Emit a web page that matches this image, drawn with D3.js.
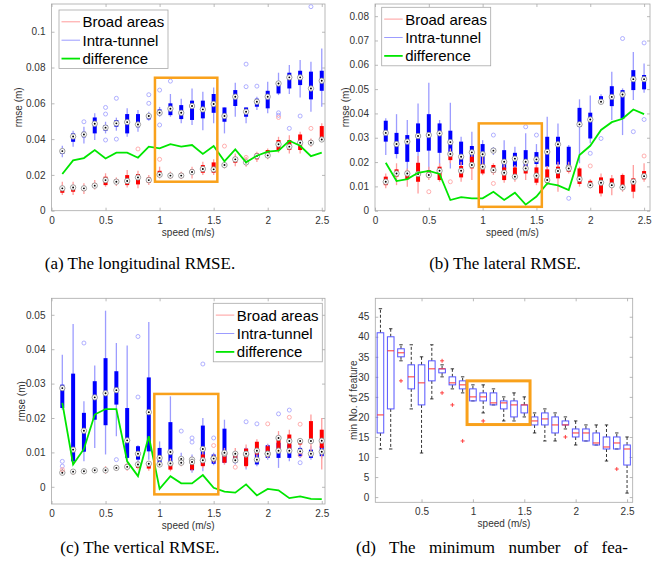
<!DOCTYPE html>
<html>
<head>
<meta charset="utf-8">
<script src="https://cdn.jsdelivr.net/npm/d3@7"></script>
<style>
  body { margin: 0; background: #fff; }
  svg { display: block; font-family: "Liberation Sans", Arial, sans-serif; }
</style>
</head>
<body>
<svg id="fig" width="662" height="566"></svg>
<script>
'use strict';

/* ---- data: speeds and per-speed box stats [lo, q1, median, q3, hi] ---- */
const speeds = [0.1, 0.2, 0.3, 0.4, 0.5, 0.6, 0.7, 0.8, 0.9, 1.0, 1.1, 1.2, 1.3,
                1.4, 1.5, 1.6, 1.7, 1.8, 1.9, 2.0, 2.1, 2.2, 2.3, 2.4, 2.5];
const speedTicks = [0, 0.5, 1, 1.5, 2, 2.5];
const featSpeedTicks = [0.5, 1, 1.5, 2, 2.5];
const legendNames = ['Broad areas', 'Intra-tunnel', 'difference'];

// (a) longitudinal
const lonTicks = [0, 0.02, 0.04, 0.06, 0.08, 0.1];
const lonTunnel = [
  [0.0298, 0.0317, 0.0333, 0.0345, 0.0363], [0.0358, 0.0385, 0.0415, 0.0432, 0.0447],
  [0.0376, 0.0410, 0.0426, 0.0441, 0.0469], [0.0395, 0.0432, 0.0486, 0.0521, 0.0544],
  [0.0432, 0.0447, 0.0464, 0.0479, 0.0497], [0.0447, 0.0469, 0.0488, 0.0506, 0.0520],
  [0.0413, 0.0432, 0.0495, 0.0540, 0.0572], [0.0441, 0.0466, 0.0482, 0.0540, 0.0562],
  [0.0503, 0.0510, 0.0529, 0.0540, 0.0553], [0.0525, 0.0534, 0.0547, 0.0566, 0.0580],
  [0.0525, 0.0534, 0.0570, 0.0600, 0.0652], [0.0488, 0.0512, 0.0547, 0.0590, 0.0626],
  [0.0479, 0.0507, 0.0585, 0.0615, 0.0683], [0.0450, 0.0516, 0.0566, 0.0615, 0.0665],
  [0.0488, 0.0547, 0.0596, 0.0652, 0.0689], [0.0432, 0.0497, 0.0529, 0.0577, 0.0577],
  [0.0525, 0.0585, 0.0637, 0.0674, 0.0715], [0.0488, 0.0525, 0.0553, 0.0577, 0.0577],
  [0.0563, 0.0581, 0.0609, 0.0626, 0.0637], [0.0544, 0.0572, 0.0637, 0.0670, 0.0720],
  [0.0646, 0.0655, 0.0711, 0.0720, 0.0771], [0.0652, 0.0683, 0.0745, 0.0771, 0.0814],
  [0.0633, 0.0702, 0.0745, 0.0782, 0.0842], [0.0553, 0.0622, 0.0683, 0.0777, 0.0832],
  [0.0581, 0.0670, 0.0726, 0.0782, 0.0907]
];
const lonTunnelOut = [[0.3, 0.0497], [0.5, 0.0577], [0.5, 0.054], [0.5, 0.0395], [0.6, 0.0628],
  [0.6, 0.040], [0.9, 0.0648], [0.9, 0.060], [1.0, 0.0674], [1.0, 0.0479], [1.1, 0.0724],
  [1.8, 0.0819], [1.8, 0.0693], [1.9, 0.0696], [2.1, 0.0547], [2.1, 0.0533], [2.2, 0.046],
  [2.3, 0.0529], [2.4, 0.114]];
const lonBroad = [
  [0.0088, 0.0100, 0.0125, 0.0130, 0.0162], [0.0088, 0.0106, 0.0130, 0.0143, 0.0162],
  [0.0093, 0.0112, 0.0125, 0.0134, 0.0153], [0.0119, 0.0130, 0.0140, 0.0153, 0.0171],
  [0.0134, 0.0143, 0.0171, 0.0190, 0.0209], [0.0138, 0.0149, 0.0162, 0.0175, 0.0186],
  [0.0130, 0.0143, 0.0166, 0.0199, 0.0227], [0.0125, 0.0147, 0.0186, 0.0205, 0.0223],
  [0.0143, 0.0156, 0.0171, 0.0186, 0.0199], [0.0180, 0.0190, 0.0201, 0.0223, 0.0246],
  [0.0177, 0.0186, 0.0196, 0.0205, 0.0218], [0.0177, 0.0186, 0.0196, 0.0209, 0.0218],
  [0.0180, 0.0205, 0.0216, 0.0231, 0.0246], [0.0199, 0.0212, 0.0233, 0.0255, 0.0273],
  [0.0199, 0.0212, 0.0231, 0.0270, 0.0287], [0.0236, 0.0246, 0.0255, 0.0264, 0.0273],
  [0.0249, 0.0268, 0.0287, 0.0298, 0.0320], [0.0246, 0.0260, 0.0270, 0.0283, 0.0302],
  [0.0272, 0.0287, 0.0305, 0.0320, 0.0330], [0.0287, 0.0302, 0.0309, 0.0339, 0.0348],
  [0.0324, 0.0339, 0.0371, 0.0395, 0.0413], [0.0320, 0.0339, 0.0358, 0.0395, 0.0421],
  [0.0320, 0.0339, 0.0380, 0.0426, 0.0441], [0.0357, 0.0367, 0.0380, 0.0395, 0.0404],
  [0.0385, 0.0395, 0.0398, 0.0473, 0.0488]
];
const lonBroadOut = [[0.8, 0.0345], [1.0, 0.0287], [1.6, 0.0361], [1.8, 0.0298], [2.1, 0.0521], [2.4, 0.046]];
const lonDiff = [0.0205, 0.0281, 0.0294, 0.0339, 0.0292, 0.0324, 0.0324, 0.0296, 0.0358, 0.0348,
  0.0372, 0.0358, 0.0367, 0.0317, 0.0361, 0.0276, 0.0343, 0.0270, 0.0307, 0.0330, 0.0335,
  0.0391, 0.0363, 0.0305, 0.0324];
const lonZoom = [0.957, 1.534, 0.0162, 0.0743];

// (b) lateral
const latTicks = [0, 0.01, 0.02, 0.03, 0.04, 0.05, 0.06, 0.07, 0.08];
const latTunnel = [
  [0.0229, 0.0284, 0.0320, 0.0370, 0.0380], [0.0215, 0.0233, 0.0274, 0.0320, 0.0397],
  [0.0167, 0.0201, 0.0284, 0.0311, 0.0373], [0.0181, 0.0242, 0.0307, 0.0359, 0.0441],
  [0.0140, 0.0247, 0.0311, 0.0397, 0.0526], [0.0181, 0.0238, 0.0318, 0.0359, 0.0373],
  [0.0174, 0.0236, 0.0282, 0.0329, 0.0444], [0.0167, 0.0188, 0.0222, 0.0284, 0.0304],
  [0.0188, 0.0201, 0.0240, 0.0266, 0.0325], [0.0174, 0.0184, 0.0232, 0.0274, 0.0290],
  [0.0229, 0.0238, 0.0247, 0.0256, 0.0262], [0.0153, 0.0170, 0.0201, 0.0249, 0.0290],
  [0.0174, 0.0181, 0.0214, 0.0238, 0.0263], [0.0156, 0.0170, 0.0201, 0.0249, 0.0318],
  [0.0174, 0.0192, 0.0211, 0.0241, 0.0274], [0.0153, 0.0181, 0.0242, 0.0304, 0.0386],
  [0.0167, 0.0190, 0.0273, 0.0304, 0.0359], [0.0167, 0.0174, 0.0178, 0.0263, 0.0270],
  [0.0195, 0.0345, 0.0355, 0.0423, 0.0458], [0.0277, 0.0297, 0.0375, 0.0403, 0.0474],
  [0.0438, 0.0444, 0.0448, 0.0471, 0.0479], [0.0373, 0.0430, 0.0468, 0.0512, 0.0571],
  [0.0311, 0.0379, 0.0478, 0.0496, 0.0503], [0.0455, 0.0496, 0.0541, 0.0578, 0.0653],
  [0.0485, 0.0499, 0.0541, 0.0558, 0.0605]
];
const latTunnelOut = [[1.1, 0.0311], [1.4, 0.0345], [1.5, 0.0311], [1.8, 0.0051], [2.0, 0.0236],
  [2.1, 0.0297], [2.3, 0.0708], [2.4, 0.0325], [2.5, 0.069], [2.5, 0.0375]];
const latBroad = [
  [0.0092, 0.0105, 0.0119, 0.0140, 0.0153], [0.0105, 0.0140, 0.0153, 0.0170, 0.0195],
  [0.0099, 0.0129, 0.0153, 0.0164, 0.0174], [0.0071, 0.0119, 0.0151, 0.0197, 0.0225],
  [0.0126, 0.0137, 0.0147, 0.0167, 0.0181], [0.0119, 0.0126, 0.0164, 0.0181, 0.0195],
  [0.0195, 0.0208, 0.0233, 0.0236, 0.0256], [0.0119, 0.0137, 0.0164, 0.0184, 0.0201],
  [0.0126, 0.0174, 0.0188, 0.0222, 0.0243], [0.0146, 0.0153, 0.0181, 0.0192, 0.0222],
  [0.0147, 0.0156, 0.0167, 0.0188, 0.0195], [0.0115, 0.0126, 0.0156, 0.0178, 0.0188],
  [0.0119, 0.0140, 0.0140, 0.0178, 0.0188], [0.0126, 0.0153, 0.0174, 0.0184, 0.0195],
  [0.0105, 0.0115, 0.0144, 0.0178, 0.0188], [0.0105, 0.0115, 0.0126, 0.0170, 0.0184],
  [0.0078, 0.0133, 0.0163, 0.0181, 0.0201], [0.0153, 0.0160, 0.0174, 0.0188, 0.0201],
  [0.0099, 0.0110, 0.0130, 0.0174, 0.0181], [0.0092, 0.0101, 0.0105, 0.0123, 0.0129],
  [0.0058, 0.0071, 0.0115, 0.0137, 0.0153], [0.0064, 0.0099, 0.0105, 0.0133, 0.0147],
  [0.0078, 0.0089, 0.0096, 0.0147, 0.0153], [0.0051, 0.0078, 0.0119, 0.0133, 0.0188],
  [0.0119, 0.0129, 0.0142, 0.0163, 0.0195]
];
const latBroadOut = [[0.5, 0.0078], [0.7, 0.0119], [1.1, 0.0112], [2.0, 0.0184], [2.5, 0.0225]];
const latDiff = [0.0197, 0.0122, 0.0130, 0.0156, 0.0164, 0.0151, 0.0044, 0.0056, 0.0051, 0.0051,
  0.0078, 0.0044, 0.0074, 0.0025, 0.0058, 0.0112, 0.0104, 0.0085, 0.0229, 0.0267, 0.0332,
  0.0364, 0.0378, 0.0416, 0.0397];
const latZoom = [0.964, 1.55, 0.0016, 0.0359];

// (c) vertical
const vertTicks = [0, 0.01, 0.02, 0.03, 0.04, 0.05];
const vertTunnel = [
  [0.0224, 0.0229, 0.0287, 0.0297, 0.0384], [0.0070, 0.0074, 0.0108, 0.0329, 0.0473],
  [0.0074, 0.0102, 0.0163, 0.0215, 0.0249], [0.0113, 0.0195, 0.0260, 0.0307, 0.0353],
  [0.0094, 0.0179, 0.0272, 0.0374, 0.0512], [0.0147, 0.0239, 0.0281, 0.0336, 0.0418],
  [0.0079, 0.0084, 0.0135, 0.0229, 0.0411], [0.0070, 0.0079, 0.0096, 0.0118, 0.0121],
  [0.0079, 0.0103, 0.0217, 0.0318, 0.0479], [0.0060, 0.0065, 0.0084, 0.0113, 0.0132],
  [0.0055, 0.0065, 0.0101, 0.0188, 0.0263], [0.0070, 0.0074, 0.0081, 0.0086, 0.0099],
  [0.0041, 0.0048, 0.0079, 0.0084, 0.0094], [0.0045, 0.0062, 0.0110, 0.0178, 0.0200],
  [0.0063, 0.0067, 0.0082, 0.0094, 0.0099], [0.0065, 0.0070, 0.0096, 0.0169, 0.0195],
  [0.0065, 0.0070, 0.0077, 0.0096, 0.0104], [0.0050, 0.0063, 0.0094, 0.0111, 0.0115],
  [0.0060, 0.0065, 0.0079, 0.0108, 0.0118], [0.0079, 0.0084, 0.0096, 0.0121, 0.0125],
  [0.0055, 0.0084, 0.0105, 0.0128, 0.0152], [0.0074, 0.0084, 0.0105, 0.0123, 0.0133],
  [0.0084, 0.0089, 0.0103, 0.0113, 0.0118], [0.0079, 0.0084, 0.0096, 0.0108, 0.0118],
  [0.0082, 0.0089, 0.0102, 0.0118, 0.0133]
];
const vertTunnelOut = [[0.1, 0.0074], [0.1, 0.006], [0.3, 0.0418], [0.6, 0.0079], [0.8, 0.0437],
  [0.8, 0.0261], [1.2, 0.0162], [1.3, 0.0142], [1.3, 0.013], [1.4, 0.0357], [1.5, 0.0142],
  [1.8, 0.0189], [1.9, 0.0183], [2.1, 0.0212], [2.2, 0.0223], [2.3, 0.007]];
const vertBroad = [
  [0.0034, 0.0038, 0.0041, 0.0047, 0.0053], [0.0035, 0.0040, 0.0044, 0.0048, 0.0051],
  [0.0039, 0.0042, 0.0045, 0.0048, 0.0052], [0.0042, 0.0045, 0.0048, 0.0052, 0.0055],
  [0.0038, 0.0044, 0.0048, 0.0053, 0.0060], [0.0047, 0.0051, 0.0055, 0.0059, 0.0063],
  [0.0047, 0.0053, 0.0058, 0.0065, 0.0070], [0.0050, 0.0055, 0.0065, 0.0070, 0.0074],
  [0.0047, 0.0053, 0.0067, 0.0070, 0.0074], [0.0057, 0.0063, 0.0065, 0.0070, 0.0074],
  [0.0045, 0.0050, 0.0068, 0.0070, 0.0084], [0.0060, 0.0065, 0.0070, 0.0074, 0.0079],
  [0.0045, 0.0050, 0.0072, 0.0079, 0.0087], [0.0055, 0.0060, 0.0077, 0.0094, 0.0104],
  [0.0070, 0.0074, 0.0082, 0.0089, 0.0094], [0.0065, 0.0070, 0.0099, 0.0103, 0.0113],
  [0.0079, 0.0084, 0.0096, 0.0101, 0.0113], [0.0055, 0.0060, 0.0096, 0.0111, 0.0123],
  [0.0084, 0.0094, 0.0105, 0.0131, 0.0138], [0.0084, 0.0089, 0.0096, 0.0118, 0.0123],
  [0.0099, 0.0103, 0.0142, 0.0147, 0.0162], [0.0104, 0.0111, 0.0133, 0.0152, 0.0166],
  [0.0118, 0.0123, 0.0133, 0.0134, 0.0142], [0.0094, 0.0128, 0.0133, 0.0191, 0.0210],
  [0.0050, 0.0113, 0.0134, 0.0166, 0.0200]
];
const vertBroadOut = [[0.1, 0.005], [1.5, 0.012], [1.7, 0.0057], [2.0, 0.0183], [2.2, 0.0202],
  [2.3, 0.0182], [2.3, 0.0092]];
const vertDiff = [0.0244, 0.0065, 0.0110, 0.0210, 0.0226, 0.0226, 0.0074, 0.0031, 0.0147, -0.0006,
  0.0031, 0.0010, 0.0010, 0.0034, -0.0003, -0.0014, -0.0017, 0.0007, -0.0025, -0.0006, -0.0010,
  -0.0033, -0.0028, -0.0035, -0.0036];
const vertZoom = [0.951, 1.543, -0.0022, 0.027];

// (d) minimum number of features
const featTicks = [0, 5, 10, 15, 20, 25, 30, 35, 40, 45];
const featStats = [
  [12, 16, 20.5, 41, 47], [12, 22, 36.5, 40, 42], [34, 35, 36, 37, 38], [22, 27, 30, 33, 38],
  [11, 23, 28.5, 33, 35], [24.5, 29, 32, 34, 38], [30, 31, 32, 32, 33], [27, 28, 28.5, 30, 32],
  [26, 27, 28, 29, 30], [24, 24, 25, 27, 28], [21, 24, 25, 26, 28], [23, 23, 23.5, 26, 27],
  [19, 22, 23.5, 24, 25], [19, 20, 23, 24, 26], [20, 21, 23, 23, 25], [16, 18, 19, 20, 21],
  [14, 18, 19.5, 21, 22], [14, 16, 18, 20, 21], [17, 18, 18, 19, 20], [13, 15, 16, 17, 19],
  [14, 14, 16, 17, 18], [13, 13, 13.5, 16, 18], [9, 12, 12.5, 15, 18], [12, 12, 13.5, 15, 16],
  [1, 8, 12, 13, 15]
];
const featOut = [[0.3, 29], [0.7, 34], [0.7, 26], [0.8, 23], [0.9, 14], [1.1, 19], [1.9, 15], [2.4, 7]];
const featZoom = [0.943, 1.556, 18.1, 29.0];

/* ---- styling ---- */
const RED = '#ff0000', BLUE = '#0000ff';
const PALE_RED = '#ff9c9c', PALE_BLUE = '#9c9cff';
const GREEN = '#00e600', ORANGE = '#f9a11b';
const AXIS = '#a8a8a8', TXT = '#333';

const fig = d3.select('#fig');
const fmt = d => String(+d.toFixed(4));

function frame(g, x, y, xTicks, yTicks) {
    const [x0, x1] = x.range();
    const [yb, yt] = y.range();
    g.append('rect').attr('x', x0).attr('y', yt).attr('width', x1 - x0).attr('height', yb - yt)
        .attr('fill', 'none').attr('stroke', AXIS).attr('stroke-width', 0.8);
    const axes = [
        g.append('g').attr('transform', `translate(0,${yb})`)
            .call(d3.axisBottom(x).tickValues(xTicks).tickFormat(fmt).tickSizeInner(-3).tickSizeOuter(0).tickPadding(6)),
        g.append('g').attr('transform', `translate(0,${yt})`)
            .call(d3.axisTop(x).tickValues(xTicks).tickFormat(() => '').tickSizeInner(-3).tickSizeOuter(0)),
        g.append('g').attr('transform', `translate(${x0},0)`)
            .call(d3.axisLeft(y).tickValues(yTicks).tickFormat(fmt).tickSizeInner(-3).tickSizeOuter(0).tickPadding(6)),
        g.append('g').attr('transform', `translate(${x1},0)`)
            .call(d3.axisRight(y).tickValues(yTicks).tickFormat(() => '').tickSizeInner(-3).tickSizeOuter(0))
    ];
    axes.forEach(a => {
        a.attr('font-family', null).attr('font-size', 10);
        a.select('.domain').remove();
        a.selectAll('line').attr('stroke', AXIS).attr('stroke-width', 0.8);
        a.selectAll('text').attr('fill', TXT);
    });
}

function axisLabels(g, x, y, yLabel, ylx) {
    const [x0, x1] = x.range();
    const [yb, yt] = y.range();
    g.append('text').attr('x', (x0 + x1) / 2).attr('y', yb + 25).attr('text-anchor', 'middle')
        .attr('font-size', 10).attr('fill', TXT).text('speed (m/s)');
    g.append('text').attr('transform', `translate(${ylx},${(yb + yt) / 2}) rotate(-90)`)
        .attr('text-anchor', 'middle').attr('font-size', 10).attr('fill', TXT).text(yLabel);
}

function compactBoxes(g, x, y, stats, dark, pale) {
    g.append('g').selectAll('line').data(stats).join('line')
        .attr('x1', (d, i) => x(speeds[i])).attr('x2', (d, i) => x(speeds[i]))
        .attr('y1', d => y(d[0])).attr('y2', d => y(d[4]))
        .attr('stroke', pale).attr('stroke-width', 1.3);
    g.append('g').selectAll('line').data(stats).join('line')
        .attr('x1', (d, i) => x(speeds[i])).attr('x2', (d, i) => x(speeds[i]))
        .attr('y1', d => y(d[1])).attr('y2', d => y(d[3]))
        .attr('stroke', dark).attr('stroke-width', 4);
}

function medians(g, x, y, stats) {
    const m = g.append('g').selectAll('g').data(stats).join('g')
        .attr('transform', (d, i) => `translate(${x(speeds[i])},${y(d[2])})`);
    m.append('circle').attr('r', 2.7).attr('fill', '#fff').attr('stroke', '#8a8a8a').attr('stroke-width', 0.8);
    m.append('circle').attr('r', 0.95).attr('fill', '#000');
}

function outliers(g, x, y, pts, pale) {
    g.append('g').selectAll('circle').data(pts).join('circle')
        .attr('cx', d => x(d[0])).attr('cy', d => y(d[1])).attr('r', 2)
        .attr('fill', 'none').attr('stroke', pale).attr('stroke-width', 0.8);
}

function zoomRect(g, x, y, z, sw) {
    g.append('rect').attr('x', x(z[0])).attr('y', y(z[3]))
        .attr('width', x(z[1]) - x(z[0])).attr('height', y(z[2]) - y(z[3]))
        .attr('fill', 'none').attr('stroke', ORANGE).attr('stroke-width', sw);
}

function legend(g, lx, ly) {
    const cols = [PALE_RED, PALE_BLUE, GREEN];
    const widths = [1, 1, 1.8];
    g.append('rect').attr('x', lx).attr('y', ly).attr('width', 109).attr('height', 58.5)
        .attr('fill', '#fff').attr('stroke', AXIS).attr('stroke-width', 0.8);
    legendNames.forEach((name, i) => {
        const cy = ly + 11.8 + i * 18.4;
        g.append('line').attr('x1', lx + 2.5).attr('x2', lx + 21).attr('y1', cy).attr('y2', cy)
            .attr('stroke', cols[i]).attr('stroke-width', widths[i]);
        g.append('text').attr('x', lx + 23.5).attr('y', cy).attr('dy', '0.36em')
            .attr('font-size', 15).attr('fill', '#000').text(name);
    });
}

function rmsePanel(p) {
    const g = fig.append('g');
    const x = d3.scaleLinear().domain([0, p.xmax]).range([p.left, p.right]);
    const y = d3.scaleLinear().domain(p.ydom).range([p.bottom, p.top]);
    frame(g, x, y, speedTicks, p.yTicks);
    axisLabels(g, x, y, 'rmse (m)', p.ylx);
    compactBoxes(g, x, y, p.tunnel, BLUE, PALE_BLUE);
    compactBoxes(g, x, y, p.broad, RED, PALE_RED);
    medians(g, x, y, p.tunnel);
    medians(g, x, y, p.broad);
    outliers(g, x, y, p.tunnelOut, PALE_BLUE);
    outliers(g, x, y, p.broadOut, PALE_RED);
    g.append('path').datum(p.diff)
        .attr('d', d3.line().x((d, i) => x(speeds[i])).y(d => y(d)))
        .attr('fill', 'none').attr('stroke', GREEN).attr('stroke-width', 1.8);
    zoomRect(g, x, y, p.zoom, 2.5);
    legend(g, p.legend[0], p.legend[1]);
}

rmsePanel({ left: 51.5, right: 325, top: 4, bottom: 210.7, xmax: 2.53, ydom: [0, 0.1155],
    yTicks: lonTicks, tunnel: lonTunnel, broad: lonBroad, tunnelOut: lonTunnelOut,
    broadOut: lonBroadOut, diff: lonDiff, zoom: lonZoom, legend: [59, 10], ylx: 22 });
rmsePanel({ left: 375, right: 650, top: 4, bottom: 210.7, xmax: 2.555, ydom: [0, 0.085],
    yTicks: latTicks, tunnel: latTunnel, broad: latBroad, tunnelOut: latTunnelOut,
    broadOut: latBroadOut, diff: latDiff, zoom: latZoom, legend: [381.7, 7.3], ylx: 349 });
rmsePanel({ left: 51.5, right: 325, top: 298.3, bottom: 504, xmax: 2.53, ydom: [-0.005, 0.0548],
    yTicks: vertTicks, tunnel: vertTunnel, broad: vertBroad, tunnelOut: vertTunnelOut,
    broadOut: vertBroadOut, diff: vertDiff, zoom: vertZoom, legend: [213.3, 303.3], ylx: 25 });

/* (d) classic boxplot */
(function featurePanel() {
    const g = fig.append('g');
    const x = d3.scaleLinear().domain([0.05, 2.555]).range([375.3, 632.7]);
    const y = d3.scaleLinear().domain([-1.3, 49.6]).range([502.3, 298.3]);
    frame(g, x, y, featSpeedTicks, featTicks);
    axisLabels(g, x, y, 'min No. of feature', 357);
    const bw = 6.6, cw = 3.4;
    const b = g.append('g').selectAll('g').data(featStats).join('g')
        .attr('transform', (d, i) => `translate(${x(speeds[i])},0)`);
    b.append('line').attr('y1', d => y(d[3])).attr('y2', d => y(d[4]))
        .attr('stroke', '#000').attr('stroke-width', 0.8).attr('stroke-dasharray', '3,2');
    b.append('line').attr('y1', d => y(d[1])).attr('y2', d => y(d[0]))
        .attr('stroke', '#000').attr('stroke-width', 0.8).attr('stroke-dasharray', '3,2');
    b.append('line').attr('x1', -cw / 2).attr('x2', cw / 2).attr('y1', d => y(d[4])).attr('y2', d => y(d[4]))
        .attr('stroke', '#000').attr('stroke-width', 0.8);
    b.append('line').attr('x1', -cw / 2).attr('x2', cw / 2).attr('y1', d => y(d[0])).attr('y2', d => y(d[0]))
        .attr('stroke', '#000').attr('stroke-width', 0.8);
    b.append('rect').attr('x', -bw / 2).attr('width', bw)
        .attr('y', d => y(d[3])).attr('height', d => Math.max(0.5, y(d[1]) - y(d[3])))
        .attr('fill', 'none').attr('stroke', '#5555ff').attr('stroke-width', 1);
    b.append('line').attr('x1', -bw / 2).attr('x2', bw / 2).attr('y1', d => y(d[2])).attr('y2', d => y(d[2]))
        .attr('stroke', '#ff3030').attr('stroke-width', 1);
    const o = g.append('g').selectAll('g').data(featOut).join('g')
        .attr('transform', d => `translate(${x(d[0])},${y(d[1])})`);
    o.append('line').attr('x1', -2).attr('x2', 2).attr('stroke', '#ff3030').attr('stroke-width', 0.9);
    o.append('line').attr('y1', -2).attr('y2', 2).attr('stroke', '#ff3030').attr('stroke-width', 0.9);
    zoomRect(g, x, y, featZoom, 3);
})();

/* captions */
const cap = fig.append('g').attr('font-family', '"Liberation Serif", "Times New Roman", serif')
    .attr('font-size', 17).attr('fill', '#000');
cap.append('text').attr('x', 140).attr('y', 269).attr('text-anchor', 'middle').text('(a) The longitudinal RMSE.');
cap.append('text').attr('x', 505).attr('y', 269).attr('text-anchor', 'middle').text('(b) The lateral RMSE.');
cap.append('text').attr('x', 140).attr('y', 553).attr('text-anchor', 'middle').text('(c) The vertical RMSE.');
// (d) is a justified line: stretch the word gaps, not the letters
const capD = cap.append('text').attr('x', 356).attr('y', 553).text('(d) The minimum number of fea-');
const natural = capD.node().getComputedTextLength();
capD.attr('word-spacing', Math.max(0, (272 - natural) / 5));
</script>
</body>
</html>
